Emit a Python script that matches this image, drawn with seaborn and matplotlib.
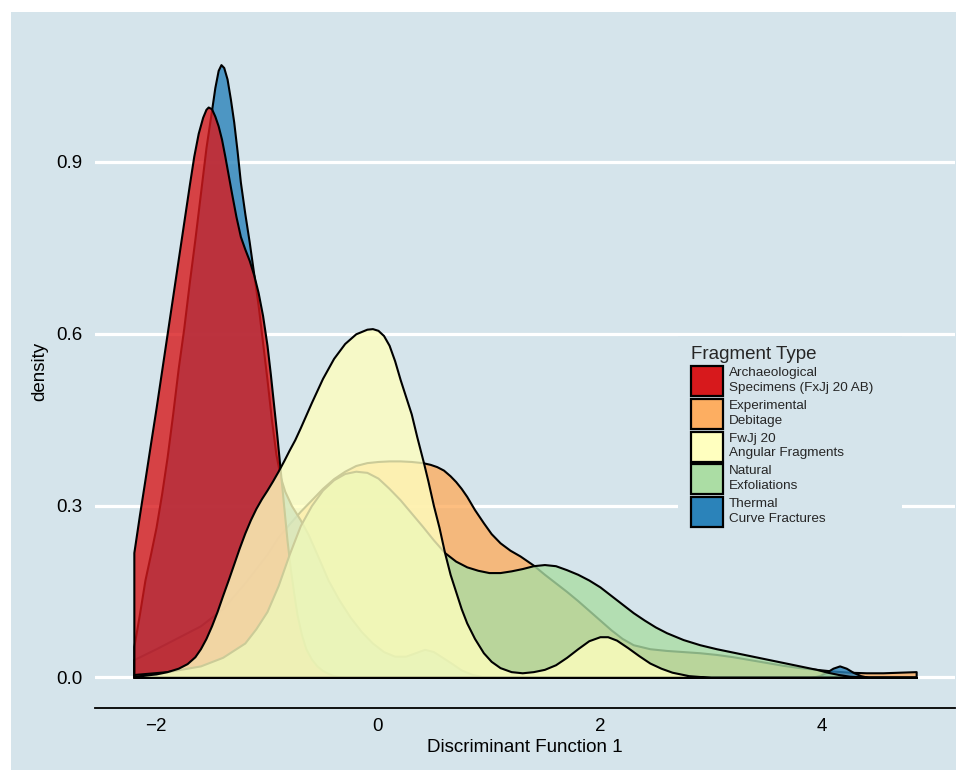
import matplotlib
matplotlib.use("Agg")
import matplotlib.pyplot as plt
from matplotlib.patches import Patch, Rectangle
import seaborn as sns
import pandas as pd

# Density estimates of Discriminant Function 1, one curve per fragment type
groups = ["Archaeological\nSpecimens (FxJj 20 AB)", "Experimental\nDebitage",
          "FwJj 20\nAngular Fragments", "Natural\nExfoliations",
          "Thermal\nCurve Fractures"]
colors = ["#D7191C", "#FDAE61", "#FFFFBF", "#ABDDA4", "#2B83BA"]

arch_x = [-2.2, -2.15, -2.1, -2.05, -2.0, -1.95, -1.9, -1.85, -1.8, -1.75, -1.7, -1.66,
          -1.62, -1.58, -1.55, -1.53, -1.5, -1.47, -1.44, -1.41, -1.38, -1.35, -1.32,
          -1.28, -1.24, -1.2, -1.16, -1.12, -1.08, -1.04, -1.0, -0.97, -0.94, -0.91,
          -0.88, -0.85, -0.82, -0.79, -0.76, -0.73, -0.69, -0.65, -0.6, -0.55, -0.5,
          -0.45, -0.4, -0.3, 4.85]
arch_y = [0.218, 0.283, 0.345, 0.408, 0.47, 0.535, 0.60, 0.665, 0.73, 0.795, 0.86, 0.91,
          0.95, 0.978, 0.992, 0.996, 0.993, 0.98, 0.963, 0.94, 0.91, 0.878, 0.846,
          0.805, 0.77, 0.748, 0.728, 0.703, 0.672, 0.632, 0.58, 0.53, 0.475, 0.42,
          0.36, 0.30, 0.24, 0.19, 0.148, 0.11, 0.075, 0.05, 0.032, 0.02, 0.012,
          0.007, 0.003, 0.0, 0.0]

exp_x = [-2.2, -2.0, -1.8, -1.6, -1.4, -1.2, -1.0, -0.9, -0.8, -0.7, -0.6, -0.5, -0.4,
         -0.3, -0.2, -0.1, 0.0, 0.1, 0.2, 0.3, 0.4, 0.47, 0.53, 0.59, 0.65, 0.7, 0.75,
         0.8, 0.87, 0.95, 1.02, 1.1, 1.19, 1.28, 1.4, 1.5, 1.6, 1.7, 1.8, 1.9, 2.0, 2.1,
         2.2, 2.3, 2.45, 2.6, 2.75, 2.9, 3.05, 3.2, 3.35, 3.5, 3.65, 3.8, 3.95, 4.1,
         4.25, 4.4, 4.55, 4.7, 4.85]
exp_y = [0.031, 0.05, 0.07, 0.09, 0.12, 0.165, 0.215, 0.245, 0.268, 0.29, 0.31, 0.33,
         0.347, 0.36, 0.37, 0.375, 0.377, 0.378, 0.378, 0.377, 0.375, 0.372, 0.368,
         0.362, 0.352, 0.342, 0.33, 0.316, 0.293, 0.27, 0.251, 0.235, 0.222, 0.212,
         0.196, 0.18, 0.165, 0.15, 0.134, 0.117, 0.10, 0.083, 0.068, 0.057, 0.05, 0.047,
         0.045, 0.043, 0.04, 0.036, 0.031, 0.026, 0.021, 0.017, 0.014, 0.011, 0.009,
         0.008, 0.008, 0.009, 0.01]

fwjj_x = [-2.2, -2.0, -1.9, -1.8, -1.72, -1.65, -1.6, -1.55, -1.5, -1.45, -1.4, -1.35,
          -1.3, -1.25, -1.2, -1.15, -1.1, -1.05, -1.0, -0.95, -0.9, -0.85, -0.8, -0.75,
          -0.7, -0.6, -0.5, -0.4, -0.3, -0.2, -0.1, -0.05, 0.0, 0.05, 0.1, 0.15, 0.2,
          0.25, 0.3, 0.35, 0.41, 0.45, 0.5, 0.55, 0.6, 0.65, 0.7, 0.75, 0.8, 0.87, 0.95,
          1.02, 1.1, 1.2, 1.3, 1.4, 1.5, 1.6, 1.7, 1.8, 1.9, 2.0, 2.07, 2.15, 2.25, 2.35,
          2.45, 2.55, 2.65, 2.8, 3.0, 4.85]
fwjj_y = [0.002, 0.006, 0.01, 0.016, 0.024, 0.036, 0.05, 0.068, 0.09, 0.115, 0.143,
          0.17, 0.198, 0.226, 0.252, 0.275, 0.295, 0.312, 0.327, 0.343, 0.36, 0.378,
          0.397, 0.415, 0.436, 0.48, 0.522, 0.557, 0.583, 0.60, 0.608, 0.609, 0.606,
          0.597, 0.58, 0.553, 0.52, 0.49, 0.46, 0.42, 0.375, 0.343, 0.30, 0.262, 0.218,
          0.18, 0.15, 0.12, 0.095, 0.068, 0.043, 0.028, 0.017, 0.01, 0.008, 0.01, 0.014,
          0.022, 0.035, 0.05, 0.064, 0.071, 0.071, 0.065, 0.052, 0.038, 0.025, 0.016,
          0.009, 0.003, 0.0, 0.0]

nat_x = [-2.2, -1.9, -1.6, -1.4, -1.2, -1.1, -1.0, -0.9, -0.8, -0.7, -0.6, -0.5, -0.4,
         -0.3, -0.2, -0.1, 0.0, 0.1, 0.2, 0.3, 0.4, 0.5, 0.6, 0.7, 0.8, 0.9, 1.0, 1.1,
         1.2, 1.3, 1.4, 1.5, 1.6, 1.7, 1.8, 1.9, 2.0, 2.1, 2.2, 2.3, 2.4, 2.5, 2.6, 2.75,
         2.9, 3.05, 3.2, 3.35, 3.5, 3.65, 3.8, 3.95, 4.05, 4.15, 4.25, 4.4, 4.85]
nat_y = [0.005, 0.01, 0.02, 0.035, 0.06, 0.085, 0.115, 0.16, 0.215, 0.265, 0.30, 0.327,
         0.345, 0.356, 0.36, 0.358, 0.348, 0.33, 0.31, 0.287, 0.264, 0.24, 0.218, 0.203,
         0.193, 0.187, 0.183, 0.183, 0.186, 0.19, 0.195, 0.197, 0.195, 0.188, 0.18,
         0.17, 0.158, 0.143, 0.128, 0.113, 0.10, 0.088, 0.078, 0.066, 0.057, 0.05,
         0.044, 0.038, 0.032, 0.026, 0.02, 0.014, 0.009, 0.005, 0.002, 0.0, 0.0]

therm_x = [-2.2, -2.15, -2.1, -2.05, -2.0, -1.95, -1.9, -1.85, -1.8, -1.75, -1.7, -1.65,
           -1.6, -1.55, -1.5, -1.47, -1.44, -1.415, -1.39, -1.36, -1.33, -1.3, -1.27,
           -1.24, -1.2, -1.16, -1.12, -1.08, -1.04, -1.0, -0.96, -0.92, -0.88, -0.84,
           -0.78, -0.7, -0.63, -0.55, -0.45, -0.35, -0.25, -0.15, -0.05, 0.05, 0.15,
           0.25, 0.35, 0.42, 0.5, 0.58, 0.66, 0.75, 0.85, 0.95, 1.1, 3.9, 3.98, 4.05,
           4.1, 4.16, 4.22, 4.28, 4.35, 4.42, 4.85]
therm_y = [0.054, 0.11, 0.17, 0.215, 0.262, 0.32, 0.385, 0.46, 0.54, 0.61, 0.69, 0.765,
           0.845, 0.925, 0.99, 1.03, 1.06, 1.07, 1.065, 1.045, 1.01, 0.97, 0.92,
           0.865, 0.81, 0.76, 0.705, 0.65, 0.585, 0.52, 0.45, 0.39, 0.35, 0.325,
           0.30, 0.275, 0.25, 0.215, 0.17, 0.135, 0.105, 0.08, 0.06, 0.045, 0.037,
           0.037, 0.044, 0.049, 0.045, 0.035, 0.025, 0.013, 0.005, 0.001, 0.0, 0.0, 0.003,
           0.01, 0.016, 0.02, 0.016, 0.009, 0.003, 0.0, 0.0]

curves = {
    groups[0]: (arch_x, arch_y),
    groups[1]: (exp_x, exp_y),
    groups[2]: (fwjj_x, fwjj_y),
    groups[3]: (nat_x, nat_y),
    groups[4]: (therm_x, therm_y),
}
df = pd.concat(
    [pd.DataFrame({"df1": x, "density": y, "type": g}) for g, (x, y) in curves.items()],
    ignore_index=True,
)

x_ticks = [-2, 0, 2, 4]
x_tick_labels = ["\u22122", "0", "2", "4"]
y_ticks = [0.0, 0.3, 0.6, 0.9]
y_tick_labels = ["0.0", "0.3", "0.6", "0.9"]

BG = "#D5E4EB"
sns.set_theme(style="white")
plt.rcParams["font.family"] = ["Liberation Sans", "DejaVu Sans"]

fig = plt.figure(figsize=(9.56, 7.70), dpi=100, facecolor="white")
fig.patches.append(Rectangle((11 / 956, 0), 1 - 11 / 956, 1 - 12 / 770,
                             transform=fig.transFigure, facecolor=BG,
                             edgecolor="none", zorder=-10))
ax = fig.add_axes([95 / 956, (770 - 708) / 770, 860 / 956, (708 - 34) / 770])
ax.set_facecolor(BG)

# legend background box, masking the grid lines behind the legend
ax.add_patch(Rectangle((678 / 956, 1 - 540 / 770), 224 / 956, 204 / 770,
                       transform=fig.transFigure, facecolor=BG, edgecolor="none",
                       zorder=2))

# stacking order of the translucent areas, back to front
order = [1, 4, 0, 3, 2]
palette = dict(zip(groups, colors))
for k, i in enumerate(order):
    g = groups[i]
    sub = df[df["type"] == g]
    r, gg, b = matplotlib.colors.to_rgb(palette[g])
    ax.fill_between(sub["df1"], sub["density"], 0, facecolor=(r, gg, b, 0.8),
                    edgecolor="black", linewidth=1.5, joinstyle="round", zorder=3 + k)

ax.set_xlim(-2.55, 5.2)
ax.set_ylim(-0.0535, 1.1235)
ax.set_xticks(x_ticks)
ax.set_xticklabels(x_tick_labels)
ax.set_yticks(y_ticks)
ax.set_yticklabels(y_tick_labels)
ax.yaxis.grid(True, color="white", linewidth=2.3, zorder=1)
ax.set_axisbelow(True)
for s in ["top", "right", "left"]:
    ax.spines[s].set_visible(False)
ax.spines["bottom"].set_color("black")
ax.spines["bottom"].set_linewidth(1.3)
ax.tick_params(axis="x", direction="in", length=7, width=1.2, color="black",
               labelsize=13.5, pad=7, labelcolor="black")
ax.tick_params(axis="y", length=0, labelsize=13.5, pad=9, labelcolor="black")
ax.set_xlabel("Discriminant Function 1", fontsize=13.5, labelpad=3, color="black")
ax.set_ylabel("density", fontsize=13.5, labelpad=6, color="black")

handles = [Patch(facecolor=c, edgecolor="black", linewidth=1.6) for c in colors]
leg = fig.legend(handles, groups, title="Fragment Type", loc="upper left",
                 bbox_to_anchor=(680 / 956, 1 - 335 / 770), bbox_transform=fig.transFigure,
                 fontsize=9.7, title_fontsize=13.5, frameon=True, facecolor=BG,
                 edgecolor="none", framealpha=1, handlelength=2.35, handleheight=3.05,
                 handletextpad=0.45, labelspacing=0.2, borderpad=0.35,
                 alignment="left")
for t in leg.get_texts():
    t.set_linespacing(1.3)
leg.set_zorder(20)

fig.savefig("out.png", dpi=100, facecolor="white")
